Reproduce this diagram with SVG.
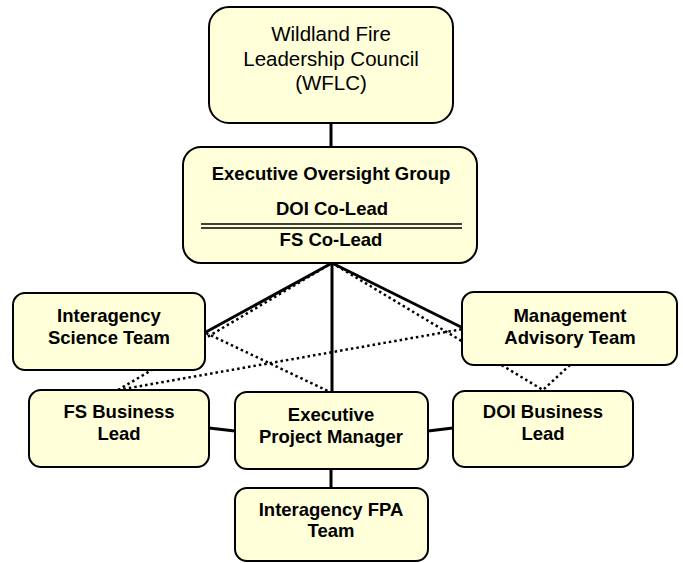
<svg xmlns="http://www.w3.org/2000/svg" width="683" height="563" viewBox="0 0 683 563">
<style>
.box{fill:#FFFFDA;stroke:#000;stroke-width:2}
.t{font-family:"Liberation Sans",Arial,sans-serif;font-size:18.5px;text-anchor:middle;fill:#000}
.n{font-size:20.5px}
.b{font-weight:bold}
.solid{stroke:#000;stroke-width:3;fill:none}
.dot{stroke:#000;stroke-width:2.5;stroke-dasharray:2.5 3;fill:none}
</style>
<rect width="683" height="563" fill="#fff"/>
<g id="connectors">
<line class="solid" x1="331" y1="123" x2="331" y2="147"/>
<line class="solid" x1="332" y1="263" x2="332" y2="392"/>
<line class="solid" x1="332" y1="263" x2="206" y2="332"/>
<line class="solid" x1="332" y1="263" x2="463" y2="328"/>
<line class="solid" x1="209" y1="428" x2="235" y2="431"/>
<line class="solid" x1="428" y1="431" x2="453" y2="428"/>
<line class="solid" x1="331" y1="469" x2="331" y2="488"/>
<line class="dot" x1="118" y1="390" x2="332" y2="263"/>
<line class="dot" x1="206" y1="333" x2="330" y2="392"/>
<line class="dot" x1="118" y1="390" x2="463" y2="329"/>
<line class="dot" x1="332" y1="263" x2="543" y2="390"/>
<line class="dot" x1="570" y1="365" x2="543" y2="390"/>
</g>
<g id="wflc">
<rect class="box" x="209" y="7" width="244" height="116" rx="20"/>
<text class="t n" x="331" y="41">Wildland Fire</text>
<text class="t n" x="331" y="66">Leadership Council</text>
<text class="t n" x="331" y="90">(WFLC)</text>
</g>
<g id="eog">
<rect class="box" x="183" y="147" width="294" height="116" rx="18"/>
<text class="t b" x="331" y="180">Executive Oversight Group</text>
<text class="t b" x="332" y="215">DOI Co-Lead</text>
<line x1="201" y1="224" x2="462" y2="224" stroke="#000" stroke-width="1.5"/>
<line x1="201" y1="228" x2="462" y2="228" stroke="#000" stroke-width="1.5"/>
<text class="t b" x="331" y="246">FS Co-Lead</text>
</g>
<g id="ist">
<rect class="box" x="13" y="293" width="192" height="77" rx="12"/>
<text class="t b" x="109" y="322">Interagency</text>
<text class="t b" x="109" y="344">Science Team</text>
</g>
<g id="mat">
<rect class="box" x="462" y="292" width="215" height="73" rx="12"/>
<text class="t b" x="570" y="322">Management</text>
<text class="t b" x="570" y="344">Advisory Team</text>
</g>
<g id="fsbl">
<rect class="box" x="29" y="390" width="180" height="77" rx="12"/>
<text class="t b" x="119" y="418">FS Business</text>
<text class="t b" x="119" y="440">Lead</text>
</g>
<g id="epm">
<rect class="box" x="235" y="392" width="193" height="77" rx="12"/>
<text class="t b" x="331" y="421">Executive</text>
<text class="t b" x="331" y="443">Project Manager</text>
</g>
<g id="doibl">
<rect class="box" x="453" y="391" width="180" height="76" rx="12"/>
<text class="t b" x="543" y="418">DOI Business</text>
<text class="t b" x="543" y="440">Lead</text>
</g>
<g id="fpa">
<rect class="box" x="235" y="488" width="193" height="73" rx="12"/>
<text class="t b" x="331" y="516">Interagency FPA</text>
<text class="t b" x="331" y="537">Team</text>
</g>
</svg>
